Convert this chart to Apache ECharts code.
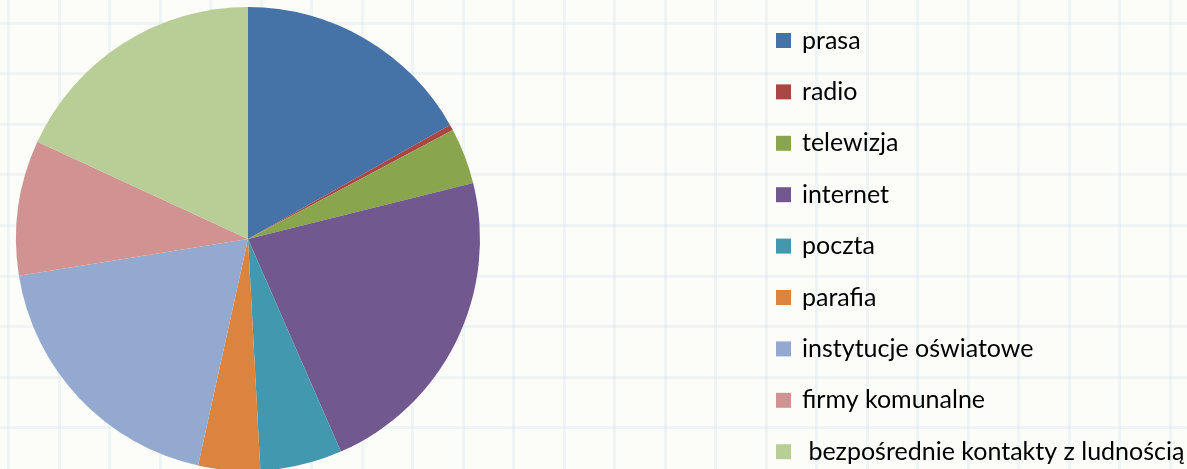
<!DOCTYPE html>
<html>
<head>
<meta charset="utf-8">
<script src="https://cdn.jsdelivr.net/npm/echarts@6/dist/echarts.min.js"></script>
<style>
  html, body {
    margin: 0;
    padding: 0;
    width: 1187px;
    height: 469px;
    overflow: hidden;
    background-color: #fcfcf9;
    background-image:
      repeating-linear-gradient(to right, transparent 0px, transparent 7px, rgba(205, 225, 236, 0.28) 7px, rgba(205, 225, 236, 0.28) 10px, transparent 10px, transparent 50.5px),
      repeating-linear-gradient(to bottom, transparent 0px, transparent 21.5px, rgba(205, 225, 236, 0.28) 21.5px, rgba(205, 225, 236, 0.28) 24.5px, transparent 24.5px, transparent 50.6px);
  }
  #chart { width: 1187px; height: 469px; }
</style>
</head>
<body>
<div id="chart"></div>
<script>
const categories = [
  'prasa',
  'radio',
  'telewizja',
  'internet',
  'poczta',
  'parafia',
  'instytucje oświatowe',
  'firmy komunalne',
  ' bezpośrednie kontakty z ludnością'
]
// udział w procentach
const shares = [16.8, 0.4, 3.9, 22.3, 5.7, 4.3, 19.0, 9.4, 18.1]
const colors = ['#4572a7', '#aa4643', '#89a54e', '#71588f', '#4198af', '#db843d', '#93a9cf', '#d19392', '#b9cd96']

const chart = echarts.init(document.getElementById('chart'))

const option = {
  animation: false,
  color: colors,
  legend: {
    orient: 'vertical',
    left: 776,
    top: 28,
    height: 445,
    padding: 0,
    itemWidth: 15,
    itemHeight: 15,
    itemGap: 26.4,
    icon: 'rect',
    data: categories,
    textStyle: {
      fontFamily: 'Lato',
      fontSize: 25,
      lineHeight: 25,
      color: '#000',
      padding: [0, 0, 0, 6]
    }
  },
  series: [
    {
      name: 'kanały',
      type: 'pie',
      center: [248, 239],
      radius: 232,
      startAngle: 90,
      clockwise: true,
      label: { show: false },
      labelLine: { show: false },
      itemStyle: { borderWidth: 0 },
      emphasis: { disabled: true },
      data: categories.map((name, i) => ({ name: name, value: shares[i] }))
    }
  ]
}

chart.setOption(option)
</script>
</body>
</html>
